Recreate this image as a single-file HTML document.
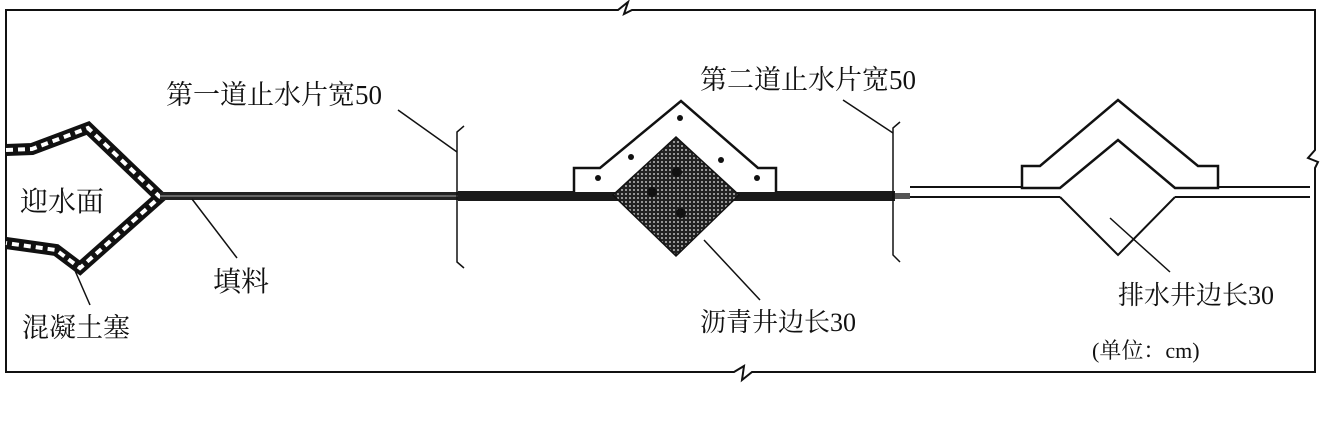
<!DOCTYPE html>
<html><head><meta charset="utf-8"><style>
body{margin:0;background:#fff}
svg text{font-family:"Liberation Serif","Noto Serif CJK SC",serif;fill:#111}
</style></head><body>
<svg width="1331" height="421" viewBox="0 0 1331 421" xmlns="http://www.w3.org/2000/svg">
<defs>
<pattern id="grid" width="4" height="4" patternUnits="userSpaceOnUse">
<rect width="4" height="4" fill="#222"/><circle cx="2" cy="2" r="1" fill="#bbb"/>
</pattern>
</defs>
<g fill="none" stroke="#111" stroke-width="2">
<path d="M6,10 H618 L628,2 L624,14 L632,10 H1315 V150 L1308,158 L1318,162 L1315,168 V372 H752 L742,380 L744,366 L734,372 H6 Z"/>
</g>
<path d="M6,150 L32,149 L88,128 L160,197 L80,268 L56,250 L6,243" fill="none" stroke="#111" stroke-width="12"/>
<path d="M6,150 L32,149 L88,128 L160,197 L80,268 L56,250 L6,243" fill="none" stroke="#fff" stroke-width="4" stroke-dasharray="7 5"/>
<rect x="160" y="192" width="298" height="8" fill="#222"/>
<line x1="160" y1="196" x2="458" y2="196" stroke="#aaa" stroke-width="1"/>
<rect x="458" y="191" width="437" height="10" fill="#1a1a1a"/>
<rect x="895" y="193" width="15" height="6" fill="#555"/>
<path d="M574,192 V168 H600 L681,101 L758,168 H776 V192" fill="#fff" stroke="#111" stroke-width="2.5"/>
<path d="M613,195 L676,137 L739,195 L676,256 Z" fill="url(#grid)" stroke="#111" stroke-width="1.5"/>
<circle cx="677" cy="172" r="5" fill="#111"/><circle cx="652" cy="192" r="5" fill="#111"/><circle cx="681" cy="213" r="5" fill="#111"/>
<g fill="#111"><circle cx="680" cy="118" r="3"/><circle cx="631" cy="157" r="3"/><circle cx="721" cy="160" r="3"/><circle cx="598" cy="178" r="3"/><circle cx="757" cy="178" r="3"/></g>
<path d="M910,187 H1060 M910,197 H1060 M1175,187 H1310 M1175,197 H1310" stroke="#111" stroke-width="2"/>
<path d="M1022,188 V166 H1040 L1118,100 L1198,166 H1218 V188 H1175 L1118,140 L1060,188 Z" fill="#fff" stroke="#111" stroke-width="2.5"/>
<path d="M1060,197 L1118,255 L1175,197" fill="none" stroke="#111" stroke-width="2"/>
<g stroke="#111" stroke-width="1.5" fill="none">
<path d="M464,126 L457,132 V262 L464,268"/>
<path d="M398,110 L457,152"/>
<path d="M900,122 L893,128 V255 L900,262"/>
<path d="M843,100 L893,133"/>
<path d="M192,199 L237,258"/>
<path d="M73,266 L90,305"/>
<path d="M704,240 L760,300"/>
<path d="M1110,218 L1170,272"/>
</g>
<g font-size="26">
<text x="166" y="104" font-size="27">第一道止水片宽50</text>
<text x="700" y="89" font-size="27">第二道止水片宽50</text>
<text x="20" y="211" font-size="28">迎水面</text>
<text x="213" y="291" font-size="28">填料</text>
<text x="22" y="337" font-size="27">混凝土塞</text>
<text x="700" y="331">沥青井边长30</text>
<text x="1118" y="304">排水井边长30</text>
<text x="1092" y="358" font-size="22">(单位：cm)</text>
</g>
</svg>
</body></html>
